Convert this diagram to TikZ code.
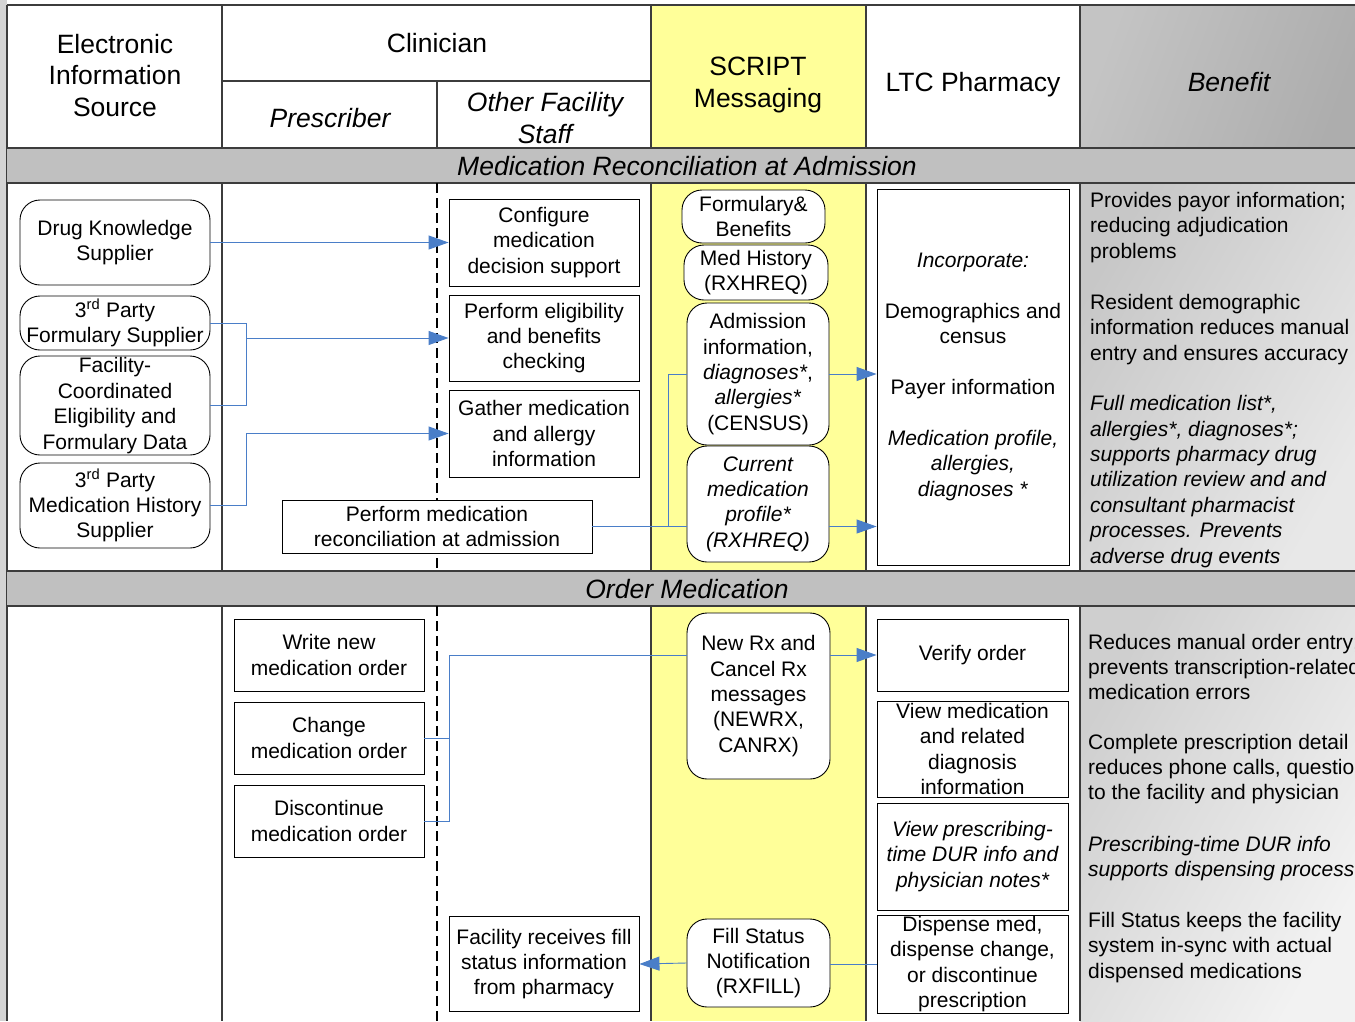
\documentclass[tikz,border=0pt]{standalone}
\usepackage{fontspec}
\setmainfont{Liberation Sans}
\usetikzlibrary{arrows.meta}
\definecolor{scriptyellow}{HTML}{FFFF99}
\definecolor{bandgray}{HTML}{C0C0C0}
\definecolor{flowblue}{HTML}{4A7EC8}
\definecolor{framegray}{HTML}{3C3C3C}

\begin{document}
\begin{tikzpicture}[x=1pt,y=-1pt,
  every node/.style={font=\fontsize{21}{25.4}\selectfont},
  hdr/.style={font=\fontsize{26.5}{31.5}\selectfont, align=center},
  box/.style={draw, fill=white, line width=0.9pt, align=center, inner sep=1pt},
  rbox/.style={box, rounded corners=20pt},
  flow/.style={draw=flowblue, line width=0.9pt},
  tip/.style={-{Triangle[length=20pt,width=14pt]}},
  frame/.style={draw=framegray, line width=1.4pt},
  bentext/.style={align=left, anchor=west, inner sep=0pt}]
\useasboundingbox (0,0) rectangle (1355,1021);

% background
\fill[black!17] (0,0) rectangle (7,1021);
\fill[scriptyellow] (651,5) rectangle (866,1021);
\shade[left color=black!23, right color=black!32, shading angle=70] (1080,5) rectangle (1355,148);
\shade[left color=black!22, right color=black!9, shading angle=60] (1080,183) rectangle (1355,571);
\shade[left color=black!19, right color=black!5, shading angle=60] (1080,606) rectangle (1355,1021);

% lanes
\draw[frame] (7,5) -- (1355,5) (7,5) -- (7,1021);
\foreach \x in {222,651,866,1080} \draw[frame] (\x,5) -- (\x,1021);
\draw[frame] (222,81) -- (651,81) (437,81) -- (437,148);
\foreach \y in {148,571} {
  \fill[bandgray] (7,\y) rectangle (1355,\y+35);
  \draw[frame] (7,\y) -- (1355,\y) (7,\y+35) -- (1355,\y+35);
}
\draw[line width=1.2pt, dash pattern=on 10pt off 5pt] (437,183) -- (437,571) (437,606) -- (437,1021);

% headers
\node[hdr] (hsrc) at (115,75.5) {Electronic\\Information\\Source};
\node[hdr] (hclin) at (437,43) {Clinician};
\node[hdr, font=\fontsize{26.5}{31.5}\selectfont\itshape] (hpres) at (330,118) {Prescriber};
\node[hdr, font=\fontsize{26.5}{31.5}\selectfont\itshape] (hother) at (545,118) {Other Facility\\Staff};
\node[hdr] (hscript) at (758,85) {SCRIPT\\Messaging};
\node[hdr] (hltc) at (973,84.5) {LTC Pharmacy};
\node[hdr, font=\fontsize{26.5}{31.5}\selectfont\itshape] (hbenefit) at (1229,82) {Benefit};
\node[hdr, font=\fontsize{26.5}{31.5}\selectfont\itshape] (band1) at (687,166) {Medication Reconciliation at Admission};
\node[hdr, font=\fontsize{26.5}{31.5}\selectfont\itshape] (band2) at (687,589) {Order Medication};

% medication reconciliation at admission
\node[rbox, minimum width=190pt, minimum height=85pt] (dks) at (115,242.5) {Drug Knowledge\\Supplier};
\node[rbox, minimum width=190pt, minimum height=54pt] (tpfs) at (115,323) {3\textsuperscript{rd} Party\\Formulary Supplier};
\node[rbox, minimum width=190pt, minimum height=99pt] (fcef) at (115,405.5) {Facility-\\Coordinated\\Eligibility and\\Formulary Data};
\node[rbox, minimum width=190pt, minimum height=85pt] (tpmh) at (115,505.5) {3\textsuperscript{rd} Party\\Medication History\\Supplier};
\node[box, minimum width=190pt, minimum height=87pt] (config) at (544,242.5) {Configure\\medication\\decision support};
\node[box, minimum width=190pt, minimum height=86pt] (elig) at (544,338) {Perform eligibility\\and benefits\\checking};
\node[box, minimum width=190pt, minimum height=87pt] (gather) at (544,433.5) {Gather medication\\and allergy\\information};
\node[box, minimum width=310pt, minimum height=53pt] (recon) at (437,526.5) {Perform medication\\reconciliation at admission};
\node[rbox, minimum width=143pt, minimum height=53pt] (formben) at (753.5,216.5) {Formulary\&\\Benefits};
\node[rbox, minimum width=144pt, minimum height=55pt] (medhist) at (756,272.5) {Med History\\(RXHREQ)};
\node[rbox, minimum width=142pt, minimum height=142pt] (admit) at (758,374) {Admission\\information,\\\textit{diagnoses*},\\\textit{allergies*}\\(CENSUS)};
\node[rbox, minimum width=142pt, minimum height=116pt, font=\fontsize{21}{25.4}\selectfont\itshape] (curmed) at (758,504) {Current\\medication\\profile*\\(RXHREQ)};
\node[box, minimum width=192pt, minimum height=376pt] (incorp) at (973,377) {\textit{Incorporate:}\\[25.4pt]Demographics and\\census\\[25.4pt]Payer information\\[25.4pt]\textit{Medication profile,}\\\textit{allergies,}\\\textit{diagnoses *}};
\node[bentext] (ben1) at (1090,227.5) {Provides payor information;\\reducing adjudication\\problems};
\node[bentext] (ben2) at (1090,329.5) {Resident demographic\\information reduces manual\\entry and ensures accuracy};
\node[bentext, font=\fontsize{21}{25.4}\selectfont\itshape] (ben3) at (1090,481.5) {Full medication list*,\\allergies*, diagnoses*;\\supports pharmacy drug\\utilization review and and\\consultant pharmacist\\processes. Prevents\\adverse drug events};

\coordinate (j1) at (246,338);
\coordinate (j2) at (668,526.5);
\draw[flow, tip] (dks.east) -- (config.west);
\draw[flow] (tpfs.east) -| (j1 |- fcef.east) -- (fcef.east);
\draw[flow, tip] (j1) -- (elig.west);
\draw[flow, tip] (tpmh.east) -| (j1 |- gather.west) -- (gather.west);
\draw[flow] (recon.east) -- (recon.east -| curmed.west);
\draw[flow] (j2) |- (admit.west);
\draw[flow, tip] (admit.east) -- (admit.east -| incorp.west);
\draw[flow, tip] (recon.east -| curmed.east) -- (recon.east -| incorp.west);

% order medication
\node[box, minimum width=190pt, minimum height=72pt] (write) at (329,655) {Write new\\medication order};
\node[box, minimum width=190pt, minimum height=72pt] (change) at (329,738) {Change\\medication order};
\node[box, minimum width=190pt, minimum height=72pt] (discont) at (329,821) {Discontinue\\medication order};
\node[box, minimum width=190pt, minimum height=95pt] (fillrecv) at (544,964) {Facility receives fill\\status information\\from pharmacy};
\node[rbox, minimum width=143pt, minimum height=166pt] (newrx) at (758.5,696) {New Rx and\\Cancel Rx\\messages\\(NEWRX,\\CANRX)};
\node[rbox, minimum width=143pt, minimum height=88pt] (fillstat) at (758.5,963) {Fill Status\\Notification\\(RXFILL)};
\node[box, minimum width=191pt, minimum height=72pt] (verify) at (972.5,655) {Verify order};
\node[box, minimum width=191pt, minimum height=96pt] (viewmed) at (972.5,749) {View medication\\and related\\diagnosis\\information};
\node[box, minimum width=191pt, minimum height=107pt, font=\fontsize{21}{25.4}\selectfont\itshape] (viewdur) at (972.5,856.5) {View prescribing-\\time DUR info and\\physician notes*};
\node[box, minimum width=191pt, minimum height=98pt] (dispense) at (972.5,964) {Dispense med,\\dispense change,\\or discontinue\\prescription};
\node[bentext] (ben4) at (1088,667) {Reduces manual order entry;\\prevents transcription-related\\medication errors};
\node[bentext] (ben5) at (1088,769) {Complete prescription detail\\reduces phone calls, questions\\to the facility and physician};
\node[bentext, font=\fontsize{21}{25.4}\selectfont\itshape] (ben6) at (1088,858.5) {Prescribing-time DUR info\\supports dispensing process};
\node[bentext] (ben7) at (1088,947.5) {Fill Status keeps the facility\\system in-sync with actual\\dispensed medications};

\coordinate (j3) at (449,655);
\draw[flow] (change.east) -- (change.east -| j3);
\draw[flow] (discont.east) -| (j3) -- (j3 -| newrx.west);
\draw[flow, tip] (j3 -| newrx.east) -- (verify.west);
\draw[flow] (dispense.west) -- (dispense.west -| fillstat.east);
\draw[flow, tip] (fillstat.west) -- (fillrecv.east);
\end{tikzpicture}
\end{document}
